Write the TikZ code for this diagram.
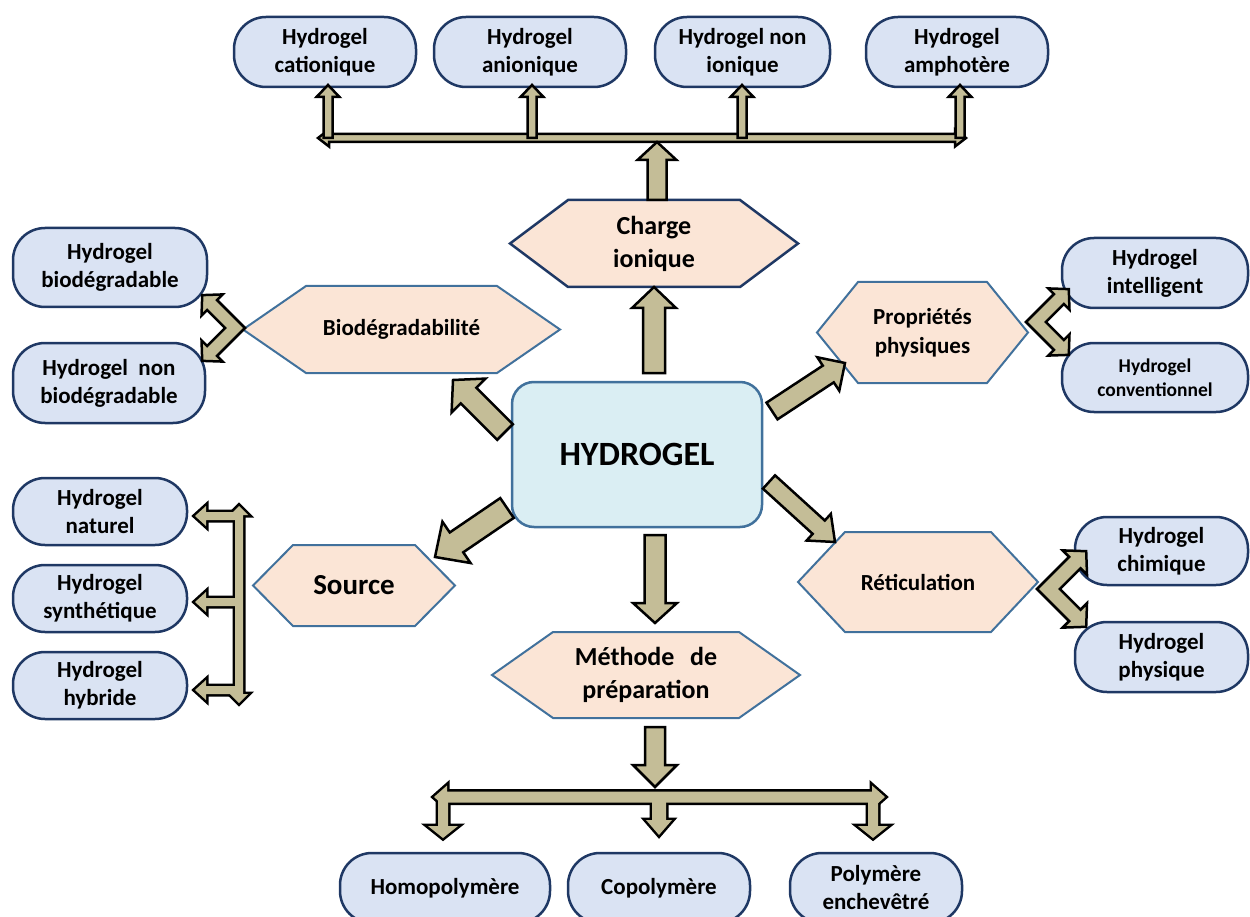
\documentclass[tikz,border=0pt]{standalone}
\usepackage{fontspec}
\setmainfont{Carlito}
\usetikzlibrary{calc,backgrounds}
\definecolor{khaki}{HTML}{C4BD97}
\definecolor{peach}{HTML}{FBE5D6}
\definecolor{boxblue}{HTML}{DAE3F3}
\definecolor{navy}{HTML}{1F3864}
\definecolor{steel}{HTML}{41719C}
\definecolor{hydfill}{HTML}{DAEEF3}
\tikzset{
  box/.style={draw=navy, line width=2.5pt, fill=boxblue, rounded corners=32pt, align=center,
    inner sep=0pt, outer sep=0pt, font=\bfseries\fontsize{23pt}{28pt}\selectfont},
  smallbox/.style={box, font=\bfseries\fontsize{19.5pt}{24pt}\selectfont},
  hydro/.style={draw=steel, line width=2.5pt, fill=hydfill, rounded corners=22pt, align=center,
    inner sep=0pt, outer sep=0pt, font=\bfseries\fontsize{34pt}{40pt}\selectfont},
  hextxt/.style={inner sep=0pt, outer sep=0pt, align=center, font=\bfseries\fontsize{23pt}{29pt}\selectfont},
  bigtxt/.style={hextxt, font=\bfseries\fontsize{26pt}{33pt}\selectfont},
  hexline/.style={draw=steel, line width=2pt, fill=peach, line join=miter},
  hexdark/.style={draw=navy, line width=2.5pt, fill=peach, line join=miter},
  fatarrow/.style={draw=black, fill=khaki, line width=2.5pt, line join=miter},
  arrline/.style={draw=black, line width=5pt, line join=miter},
  arrfill/.style={fill=khaki},
}
% single block arrow: start, end, shaft half width, head half width, head length
\newcommand{\fatarr}[6][fatarrow]{%
  \path[#1] let \p1=(#2), \p2=(#3), \p3=($(\p2)!#6!(\p1)$) in
  ($(\p1)!#4!90:(\p2)$) -- ($(\p3)!#4!-90:(\p1)$) -- ($(\p3)!#5!-90:(\p1)$) -- (\p2)
  -- ($(\p3)!#5!90:(\p1)$) -- ($(\p3)!#4!90:(\p1)$) -- ($(\p1)!#4!-90:(\p2)$) -- cycle;}
% double-headed block arrow
\newcommand{\fatdarr}[6][fatarrow]{%
  \path[#1] let \p1=(#2), \p2=(#3), \p3=($(\p2)!#6!(\p1)$), \p4=($(\p1)!#6!(\p2)$) in
  (\p1) -- ($(\p4)!#5!90:(\p2)$) -- ($(\p4)!#4!90:(\p2)$) -- ($(\p3)!#4!-90:(\p1)$)
  -- ($(\p3)!#5!-90:(\p1)$) -- (\p2) -- ($(\p3)!#5!90:(\p1)$) -- ($(\p3)!#4!90:(\p1)$)
  -- ($(\p4)!#4!-90:(\p2)$) -- ($(\p4)!#5!-90:(\p2)$) -- cycle;}
% bent (L-shaped) double block arrow: corner, rotation, scale
\newcommand{\chev}[4][fatarrow]{%
  \begin{scope}[x=1pt,y=1pt,shift={(#2)},rotate=#3,scale=#4]
    \path[#1] (0,0) -- (39.5,0) -- (39.5,-8) -- (53.5,7) -- (39.5,22) -- (39.5,14) -- (14,14)
      -- (14,39.5) -- (22,39.5) -- (7,53.5) -- (-8,39.5) -- (0,39.5) -- cycle;
  \end{scope}}
% hexagon around a text node
\newcommand{\hexa}[3][hexline]{%
  \path[#1] (#2.west) -- ([xshift=#3]#2.north west) -- ([xshift=-#3]#2.north east) -- (#2.east)
  -- ([xshift=-#3]#2.south east) -- ([xshift=#3]#2.south west) -- cycle;}
\begin{document}
\begin{tikzpicture}[x=1pt,y=-1pt]
\useasboundingbox (0,0) rectangle (1250,917);

% ---------- leaf boxes ----------
\node[box, minimum width=182pt, minimum height=70pt] (cat) at (325,52) {Hydrogel\\cationique};
\node[box, minimum width=192pt, minimum height=70pt] (ani) at (530,52) {Hydrogel\\anionique};
\node[box, minimum width=175pt, minimum height=70pt] (noni) at (742.5,52) {Hydrogel non\\ionique};
\node[box, minimum width=182pt, minimum height=70pt] (amph) at (957,52) {Hydrogel\\amphotère};

\node[box, minimum width=194pt, minimum height=79pt] (biod) at (110,267.5) {Hydrogel\\biodégradable};
\node[box, minimum width=192pt, minimum height=80pt] (nbiod) at (109,383) {Hydrogel\hspace{0.45em}non\\biodégradable};

\node[box, minimum width=174pt, minimum height=67pt] (nat) at (100,511.5) {Hydrogel\\naturel};
\node[box, minimum width=174pt, minimum height=67pt] (syn) at (100,598.5) {Hydrogel\\synthétique};
\node[box, minimum width=174pt, minimum height=67pt] (hyb) at (100,685.5) {Hydrogel\\hybride};

\node[box, minimum width=186pt, minimum height=70pt] (intel) at (1155,273) {Hydrogel\\intelligent};
\node[smallbox, minimum width=186pt, minimum height=69pt] (conv) at (1155,377.5) {Hydrogel\\conventionnel};
\node[box, minimum width=173pt, minimum height=68pt] (chim) at (1161.5,551) {Hydrogel\\chimique};
\node[box, minimum width=173pt, minimum height=70pt] (phys) at (1161.5,657) {Hydrogel\\physique};

\node[box, minimum width=210pt, minimum height=70pt] (homo) at (445,888) {Homopolymère};
\node[box, minimum width=182pt, minimum height=70pt] (copo) at (659,888) {Copolymère};
\node[box, minimum width=172pt, minimum height=70pt] (poly) at (876,888) {Polymère\\enchevêtré};

% ---------- centre ----------
\node[hydro, minimum width=250pt, minimum height=145pt] (hyd) at (637,454.5) {HYDROGEL};

% ---------- hexagon categories ----------
\node[bigtxt, minimum width=288pt, minimum height=87pt] (charge) at (654,243.5) {Charge\\ionique};
\node[hextxt, minimum width=317pt, minimum height=87pt] (biohex) at (401.5,329.5) {Biodégradabilité};
\node[hextxt, minimum width=211pt, minimum height=101pt] (prop) at (922.5,332.5) {Propriétés\\physiques};
\node[hextxt, font=\bfseries\fontsize{29pt}{34pt}\selectfont, minimum width=202pt, minimum height=81pt] (src) at (354,585.5) {Source};
\node[hextxt, minimum width=240pt, minimum height=100pt] (retic) at (918,582) {Réticulation};
\node[bigtxt, minimum width=308pt, minimum height=86pt] (meth) at (646,675) {Méthode\hspace{0.6em}de\\préparation};

\begin{scope}[on background layer]
  \hexa[hexdark]{charge}{58pt}
  \hexa{biohex}{63pt}
  \hexa{prop}{41pt}
  \hexa{src}{40pt}
  \hexa{retic}{47pt}
  \hexa{meth}{61pt}
\end{scope}

% ---------- arrows from HYDROGEL ----------
\coordinate (t1s) at (654,373);
\coordinate (t2s) at (505,432); \coordinate (t2e) at (453,380);
\coordinate (t3s) at (772,411); \coordinate (t3e) at (845,363);
\coordinate (t4s) at (769,482); \coordinate (t4e) at (835,542);
\coordinate (t5s) at (507,508); \coordinate (t5e) at (435,557);
\coordinate (t6s) at (655,535); \coordinate (t6e) at (655,623);
\fatarr{t1s}{charge.south}{11pt}{22pt}{21pt}
\fatarr{t2s}{t2e}{11pt}{24pt}{22pt}
\fatarr{t3s}{t3e}{10pt}{20pt}{20pt}
\fatarr{t4s}{t4e}{9pt}{18pt}{22pt}
\fatarr{t5s}{t5e}{12pt}{25pt}{26pt}
\fatarr{t6s}{t6e}{10.5pt}{22pt}{20pt}

% ---------- top bracket ----------
\coordinate (tb1) at (318,138); \coordinate (tb2) at (966,138);
\fatdarr{tb1}{tb2}{4pt}{8.5pt}{11pt}
\coordinate (u1s) at (328,138); \coordinate (u1e) at (328,85);
\coordinate (u2s) at (532,138); \coordinate (u2e) at (532,85);
\coordinate (u3s) at (742,138); \coordinate (u3e) at (742,85);
\coordinate (u4s) at (960,138); \coordinate (u4e) at (960,85);
\fatarr{u1s}{u1e}{4.5pt}{11.5pt}{12pt}
\fatarr{u2s}{u2e}{4.5pt}{11.5pt}{12pt}
\fatarr{u3s}{u3e}{4.5pt}{11.5pt}{12pt}
\fatarr{u4s}{u4e}{4.5pt}{11.5pt}{12pt}
\coordinate (cbs) at (657,200); \coordinate (cbe) at (657,142);
\fatarr{cbs}{cbe}{9.5pt}{19.5pt}{18pt}

% ---------- left bracket (Source) ----------
\coordinate (lb1) at (239,506); \coordinate (lb2) at (239,703);
\coordinate (l1s) at (238,516); \coordinate (l1e) at (195,516);
\coordinate (l2s) at (238,602); \coordinate (l2e) at (195,602);
\coordinate (l3s) at (238,690); \coordinate (l3e) at (195,690);
\fatdarr[arrline]{lb1}{lb2}{4pt}{9pt}{9pt}
\fatarr[arrline]{l1s}{l1e}{4pt}{10pt}{11pt}
\fatarr[arrline]{l2s}{l2e}{4pt}{10pt}{11pt}
\fatarr[arrline]{l3s}{l3e}{4pt}{10pt}{11pt}
\fatdarr[arrfill]{lb1}{lb2}{4pt}{9pt}{9pt}
\fatarr[arrfill]{l1s}{l1e}{4pt}{10pt}{11pt}
\fatarr[arrfill]{l2s}{l2e}{4pt}{10pt}{11pt}
\fatarr[arrfill]{l3s}{l3e}{4pt}{10pt}{11pt}

% ---------- bottom bracket (Méthode) ----------
\coordinate (ms) at (655,727); \coordinate (me) at (655,787);
\fatarr{ms}{me}{10pt}{22pt}{22pt}
\coordinate (bb1) at (434,797); \coordinate (bb2) at (885,797);
\coordinate (d1s) at (443,797); \coordinate (d1e) at (443,838);
\coordinate (d2s) at (659,797); \coordinate (d2e) at (659,835);
\coordinate (d3s) at (873,797); \coordinate (d3e) at (873,838);
\fatdarr[arrline]{bb1}{bb2}{5.5pt}{11.5pt}{13pt}
\fatarr[arrline]{d1s}{d1e}{5pt}{15pt}{12pt}
\fatarr[arrline]{d2s}{d2e}{7pt}{13pt}{15pt}
\fatarr[arrline]{d3s}{d3e}{5pt}{15pt}{12pt}
\fatdarr[arrfill]{bb1}{bb2}{5.5pt}{11.5pt}{13pt}
\fatarr[arrfill]{d1s}{d1e}{5pt}{15pt}{12pt}
\fatarr[arrfill]{d2s}{d2e}{7pt}{13pt}{15pt}
\fatarr[arrfill]{d3s}{d3e}{5pt}{15pt}{12pt}

% ---------- bent double arrows ----------
\coordinate (cb) at (245,328);
\coordinate (cp) at (1026,322);
\coordinate (cr) at (1037,589);
\chev{cb}{135}{1}
\chev{cp}{-45}{1}
\chev{cr}{-45}{1.15}
\end{tikzpicture}
\end{document}
